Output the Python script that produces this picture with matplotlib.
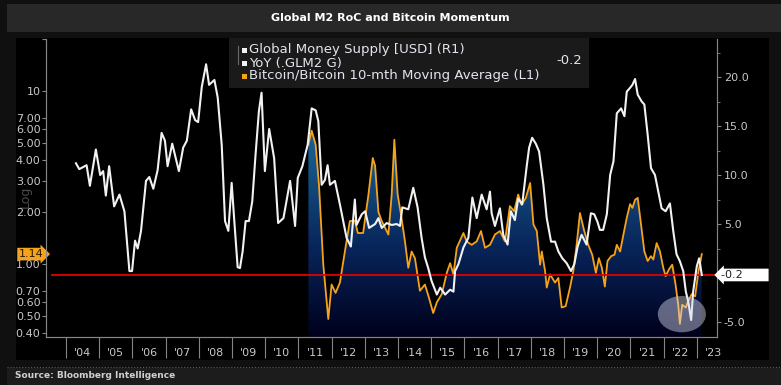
import matplotlib
matplotlib.use("Agg")
import matplotlib.pyplot as plt
import matplotlib.transforms as mtransforms
import numpy as np
from matplotlib.colors import LinearSegmentedColormap
from matplotlib.lines import Line2D
from matplotlib.patches import Ellipse, Rectangle
from matplotlib.ticker import FixedFormatter, FixedLocator, MultipleLocator, NullFormatter, NullLocator

# ---- data --------------------------------------------------------------
# Global M2 money supply YoY % (right axis)
m2_years = [
    2004.30, 2004.40, 2004.62, 2004.72, 2004.90, 2005.03, 2005.12, 2005.20, 2005.30, 2005.45,
    2005.61, 2005.76, 2005.91, 2005.99, 2006.08, 2006.16, 2006.26, 2006.41, 2006.51, 2006.63,
    2006.76, 2006.88, 2006.98, 2007.06, 2007.20, 2007.40, 2007.53, 2007.64, 2007.77, 2007.89,
    2007.98, 2008.09, 2008.22, 2008.31, 2008.47, 2008.57, 2008.69, 2008.79, 2008.89, 2008.99,
    2009.07, 2009.17, 2009.24, 2009.32, 2009.41, 2009.51, 2009.61, 2009.71, 2009.81, 2009.89,
    2009.99, 2010.12, 2010.27, 2010.39, 2010.55, 2010.75, 2010.90, 2010.98, 2011.12, 2011.28,
    2011.40, 2011.52, 2011.60, 2011.70, 2011.80, 2011.88, 2011.95, 2012.10, 2012.25, 2012.45,
    2012.58, 2012.70, 2012.75, 2012.91, 2013.01, 2013.13, 2013.31, 2013.41, 2013.51, 2013.66,
    2013.81, 2013.96, 2014.06, 2014.13, 2014.31, 2014.46, 2014.59, 2014.71, 2014.81, 2014.91,
    2015.01, 2015.17, 2015.27, 2015.42, 2015.57, 2015.67, 2015.72, 2015.82, 2015.97, 2016.12,
    2016.24, 2016.37, 2016.52, 2016.67, 2016.77, 2016.82, 2016.92, 2017.07, 2017.17, 2017.30,
    2017.40, 2017.52, 2017.62, 2017.74, 2017.88, 2017.95, 2018.04, 2018.15, 2018.25, 2018.38,
    2018.48, 2018.61, 2018.73, 2018.83, 2018.95, 2019.08, 2019.21, 2019.31, 2019.41, 2019.53,
    2019.68, 2019.81, 2019.91, 2020.01, 2020.08, 2020.18, 2020.29, 2020.39, 2020.49, 2020.59,
    2020.72, 2020.82, 2020.89, 2020.99, 2021.06, 2021.14, 2021.22, 2021.34, 2021.42, 2021.52,
    2021.62, 2021.74, 2021.84, 2021.94, 2022.06, 2022.19, 2022.29, 2022.39, 2022.49, 2022.59,
    2022.67, 2022.74, 2022.83, 2022.89, 2023.00, 2023.07, 2023.15,
]
m2_yoy = [
    11.2, 10.6, 11.0, 8.9, 12.6, 10.0, 10.4, 7.9, 10.9, 6.8,
    8.0, 6.3, 0.2, 0.2, 3.3, 2.5, 4.3, 9.4, 9.8, 8.6,
    10.5, 14.3, 13.5, 10.9, 13.2, 10.4, 12.8, 13.5, 16.7, 15.6,
    15.4, 19.0, 21.3, 19.2, 19.7, 17.9, 13.1, 5.3, 4.3, 9.2,
    5.3, 0.6, 0.5, 2.2, 5.3, 5.3, 7.3, 12.1, 16.5, 18.4,
    10.4, 14.7, 11.7, 5.1, 5.6, 9.4, 4.8, 9.7, 10.9, 13.1,
    16.8, 16.6, 15.5, 9.0, 9.5, 11.0, 9.0, 9.4, 7.0, 3.6,
    2.7, 7.5, 4.9, 6.0, 6.3, 4.6, 5.0, 5.6, 4.6, 5.1,
    4.9, 5.0, 4.8, 6.7, 6.5, 8.7, 6.7, 3.6, 1.6, 0.5,
    -0.8, -2.2, -1.5, -2.2, -1.7, -1.9, 0.2, 0.9, 2.6, 3.6,
    7.7, 5.6, 8.0, 6.5, 8.3, 6.1, 4.8, 6.6, 3.9, 2.9,
    6.3, 5.4, 7.6, 7.0, 11.0, 12.8, 13.8, 13.2, 12.4, 9.0,
    5.6, 3.2, 3.2, 2.2, 1.5, 1.0, 0.2, 0.9, 2.7, 3.9,
    2.9, 6.1, 6.0, 5.2, 4.4, 4.4, 6.0, 10.0, 11.4, 16.3,
    16.8, 16.0, 18.5, 18.9, 19.2, 19.8, 18.2, 17.5, 17.2, 14.1,
    10.7, 10.0, 8.3, 6.6, 6.3, 7.1, 4.3, 1.9, 1.2, 0.2,
    -1.9, -2.9, -4.8, -1.9, 0.7, 1.5, -0.2,
]

# Bitcoin / Bitcoin 10-month moving average (left log axis)
btc_years = [
    2011.30, 2011.40, 2011.52, 2011.62, 2011.75, 2011.90, 2012.00, 2012.12, 2012.25, 2012.40,
    2012.55, 2012.70, 2012.79, 2012.95, 2013.11, 2013.24, 2013.31, 2013.41, 2013.51, 2013.61,
    2013.71, 2013.81, 2013.89, 2013.99, 2014.09, 2014.21, 2014.31, 2014.41, 2014.51, 2014.66,
    2014.81, 2014.93, 2015.06, 2015.17, 2015.32, 2015.47, 2015.57, 2015.67, 2015.77, 2015.97,
    2016.07, 2016.22, 2016.37, 2016.50, 2016.62, 2016.77, 2016.92, 2017.07, 2017.22, 2017.37,
    2017.50, 2017.62, 2017.72, 2017.85, 2017.98, 2018.08, 2018.18, 2018.28, 2018.33, 2018.43,
    2018.48, 2018.58, 2018.73, 2018.83, 2018.93, 2019.05, 2019.18, 2019.28, 2019.38, 2019.48,
    2019.61, 2019.73, 2019.85, 2019.96, 2020.05, 2020.14, 2020.23, 2020.31, 2020.42, 2020.52,
    2020.59, 2020.69, 2020.79, 2020.89, 2020.99, 2021.06, 2021.14, 2021.22, 2021.32, 2021.42,
    2021.52, 2021.62, 2021.69, 2021.79, 2021.89, 2021.99, 2022.06, 2022.16, 2022.26, 2022.36,
    2022.44, 2022.49, 2022.56, 2022.67, 2022.74, 2022.85, 2022.95, 2023.05, 2023.15,
]
btc_ratio = [
    4.9, 5.9, 4.9, 2.87, 0.99, 0.48, 0.76, 0.68, 0.78, 1.18,
    1.77, 1.78, 1.51, 1.51, 2.52, 4.10, 3.7, 2.0, 1.77, 1.62,
    1.48, 2.52, 5.23, 2.52, 1.93, 1.35, 0.95, 1.18, 1.08, 0.70,
    0.76, 0.64, 0.52, 0.60, 0.67, 0.89, 1.01, 0.87, 1.24, 1.51,
    1.35, 1.29, 1.35, 1.55, 1.24, 1.29, 1.48, 1.55, 1.35, 2.16,
    2.02, 2.52, 2.20, 2.41, 2.94, 1.69, 1.55, 0.99, 1.18, 0.91,
    0.73, 0.87, 0.78, 0.83, 0.56, 0.57, 0.73, 0.91, 1.29, 1.97,
    1.55, 1.29, 1.13, 0.89, 1.08, 0.95, 0.74, 1.04, 1.11, 1.13,
    1.29, 1.18, 1.48, 1.85, 2.22, 2.11, 2.35, 2.41, 1.69, 1.18,
    1.04, 1.11, 1.06, 1.32, 1.18, 0.95, 0.85, 0.93, 0.99, 0.76,
    0.58, 0.45, 0.58, 0.56, 0.61, 0.67, 0.65, 0.91, 1.14,
]

year_ticks = list(range(2004, 2024))
year_labels = ["'%02d" % (y % 100) for y in year_ticks]
left_ticks = [0.4, 0.5, 0.6, 0.7, 1.0, 2.0, 3.0, 4.0, 5.0, 6.0, 7.0, 10.0, 20.0]
left_labels = ["0.40", "0.50", "0.60", "0.70", "1.00", "2.00", "3.00", "4.00", "5.00", "6.00", "7.00", "10", ""]
right_ticks = [-5, 0, 5, 10, 15, 20]
right_labels = ["-5.0", "", "5.0", "10.0", "15.0", "20.0"]
last_m2 = -0.2
last_btc = 1.14

# ---- styling ----------------------------------------------------------
W, H = 781, 385
WHITE = "#f2f2f2"
ORANGE = "#f5a31a"
GRID_GREY = "#858585"
TEXT_GREY = "#c8c8c8"


def box(x0, y0, x1, y1):
    """pixel box (top-left origin) -> figure rect"""
    return [x0 / W, 1 - y1 / H, (x1 - x0) / W, (y1 - y0) / H]


def add_rect(fig, x0, y0, x1, y1, color, z=-10):
    r = box(x0, y0, x1, y1)
    fig.patches.append(Rectangle((r[0], r[1]), r[2], r[3], transform=fig.transFigure,
                                 facecolor=color, edgecolor="none", zorder=z))


fig = plt.figure(figsize=(W / 100, H / 100), dpi=100, facecolor="#101010")

add_rect(fig, 7, 4, 781, 32, "#282828")      # title bar
add_rect(fig, 16, 38, 769, 360, "#000000")   # chart panel
add_rect(fig, 7, 368, 781, 385, "#1c1c1c")   # source bar
fig.lines.append(Line2D([7 / W, 1], [1 - 367 / H] * 2, transform=fig.transFigure,
                        color="#5a5a5a", lw=0.8, ls=":", zorder=-5))

fig.text(0.5, 1 - 18 / H, "Global M2 RoC and Bitcoin Momentum", ha="center", va="center",
         color="white", fontsize=8, fontweight="bold")
fig.text(15 / W, 1 - 375 / H, "Source: Bloomberg Intelligence", ha="left", va="center",
         color="#d0d0d0", fontsize=6.5, fontweight="bold")
fig.text(25 / W, 1 - 197 / H, "Log", rotation=90, ha="center", va="center",
         color="#4a4a4a", fontsize=9, zorder=-5)

ax = fig.add_axes(box(46, 39, 717, 337))
ax.set_facecolor("#000000")
ax.set_yscale("log")
ax2 = ax.twinx()

# orange series with gradient fill underneath
fill_cmap = LinearSegmentedColormap.from_list(
    "bb_fill", [(0.0, "#00001c"), (0.3, "#08255a"), (0.6, "#18588a"), (1.0, "#2a7cab")])
poly = ax.fill_between(btc_years, 0.1, btc_ratio, facecolor="none", edgecolor="none")
grad = np.linspace(0, 1, 256).reshape(-1, 1)
im = ax.imshow(grad, extent=[0, 1, 0, 1], transform=ax.transAxes, origin="lower",
               aspect="auto", cmap=fill_cmap, zorder=1)
im.set_clip_path(poly.get_paths()[0], transform=ax.transData)
ax.plot(btc_years, btc_ratio, color=ORANGE, lw=1.3, zorder=3)

# white series + current-value line
ax2.axhline(last_m2, xmin=6 / 671, xmax=1, color="#e10000", lw=1.3, zorder=2)
ax2.plot(m2_years, m2_yoy, color=WHITE, lw=1.5, zorder=3)
ax2.add_patch(Ellipse((2022.55, -4.2), 1.45, 3.7, facecolor="#d8d8ec", alpha=0.45,
                      edgecolor="none", zorder=5))

ax.set_xlim(2003.398, 2023.608)
ax.set_ylim(0.378, 20.0)
ax2.set_ylim(-6.53, 23.88)

# x axis: long separators at year boundaries, labels mid-year
ax.xaxis.set_major_locator(FixedLocator(year_ticks))
ax.xaxis.set_major_formatter(NullFormatter())
ax.xaxis.set_minor_locator(FixedLocator([y + 0.5 for y in year_ticks]))
ax.xaxis.set_minor_formatter(FixedFormatter(year_labels))
ax.tick_params(axis="x", which="major", length=15, width=0.8, color=GRID_GREY, direction="out")
ax.tick_params(axis="x", which="minor", length=0, pad=8, labelsize=8, labelcolor=TEXT_GREY)

ax.yaxis.set_major_locator(FixedLocator(left_ticks))
ax.yaxis.set_major_formatter(FixedFormatter(left_labels))
ax.yaxis.set_minor_locator(NullLocator())
ax.tick_params(axis="y", length=3, width=0.8, color=GRID_GREY, labelsize=8,
               labelcolor=TEXT_GREY, pad=1)

ax2.yaxis.set_major_locator(FixedLocator(right_ticks))
ax2.yaxis.set_major_formatter(FixedFormatter(right_labels))
ax2.yaxis.set_minor_locator(MultipleLocator(2.5))
ax2.tick_params(axis="y", which="major", length=3, width=0.8, color=GRID_GREY,
                labelsize=8, labelcolor=TEXT_GREY, pad=2)
ax2.tick_params(axis="y", which="minor", length=2, width=0.6, color=GRID_GREY)

for a in (ax, ax2):
    a.spines["top"].set_visible(False)
    for side in ("left", "right", "bottom"):
        a.spines[side].set_color(GRID_GREY)
        a.spines[side].set_linewidth(0.8)

# value tags on both axes
ax.text(-0.004, last_btc, "1.14", transform=mtransforms.blended_transform_factory(ax.transAxes, ax.transData),
        ha="right", va="center", fontsize=8, color="#2a1800", clip_on=False,
        bbox=dict(boxstyle="rarrow,pad=0.12", facecolor=ORANGE, edgecolor="none"))
ax2.text(1.006, last_m2, "-0.2       ", transform=mtransforms.blended_transform_factory(ax2.transAxes, ax2.transData),
         ha="left", va="center", fontsize=8, color="#202020", clip_on=False,
         bbox=dict(boxstyle="larrow,pad=0.12", facecolor="white", edgecolor="none"))

# legend box drawn by hand, above the axes
add_rect(fig, 229, 38, 589, 88, "#1a1a1a", z=5)
fig.lines.append(Line2D([238 / W] * 2, [1 - 46 / H, 1 - 64 / H], transform=fig.transFigure,
                        color="#6a6a6a", lw=0.8, zorder=6))
legend_rows = [
    ("Global Money Supply [USD] (R1)", WHITE, 50),
    ("YoY (.GLM2 G)", WHITE, 63),
    ("Bitcoin/Bitcoin 10-mth Moving Average (L1)", ORANGE, 76),
]
for label, color, ypx in legend_rows:
    add_rect(fig, 242, ypx - 2.5, 247, ypx + 2.5, color, z=6)
    fig.text(249 / W, 1 - ypx / H, label, ha="left", va="center", fontsize=9.5,
             color="#e4e4ee", zorder=6)
fig.text(582 / W, 1 - 61 / H, "-0.2", ha="right", va="center", fontsize=9.5,
         color="#e4e4ee", zorder=6)

fig.savefig("out.png", dpi=100, facecolor=fig.get_facecolor())
